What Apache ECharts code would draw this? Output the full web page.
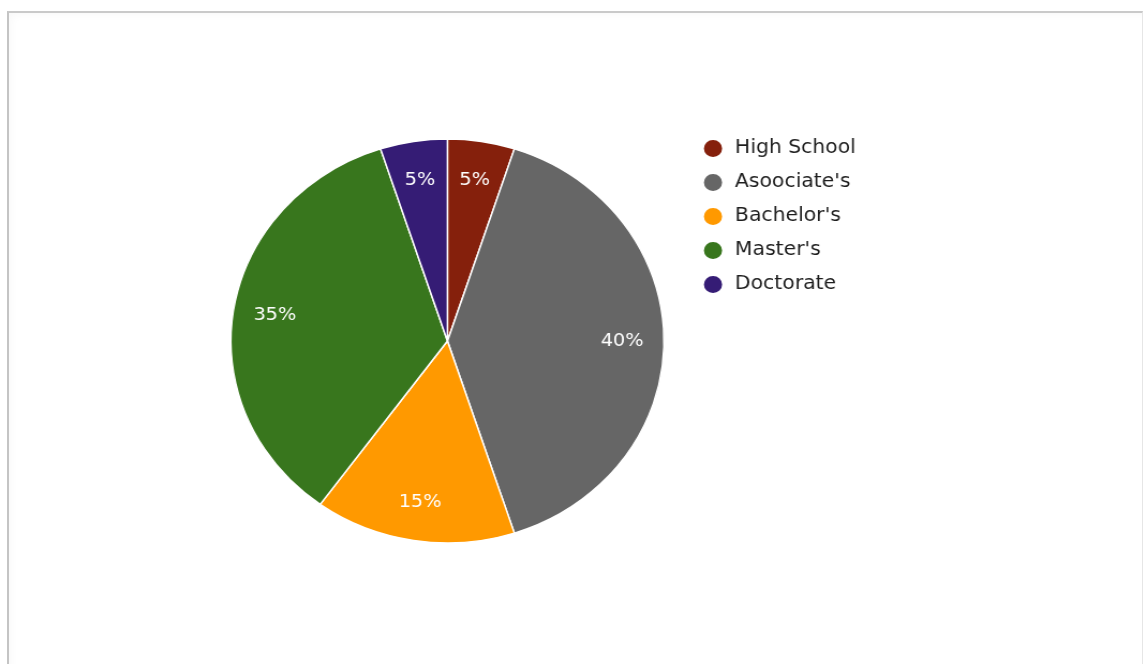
<!DOCTYPE html>
<html>
<head>
<meta charset="utf-8">
<script src="https://cdn.jsdelivr.net/npm/echarts@6/dist/echarts.min.js"></script>
<style>
  html, body { margin: 0; padding: 0; background: #ffffff; width: 1148px; height: 664px; overflow: hidden; }
  #frame {
    position: absolute; left: 7px; top: 11px; width: 1133px; height: 700px;
    border-top: 2px solid #c9c9c9; border-left: 2px solid #c4c4c4; border-right: 1px solid #e6e6e6;
    box-shadow: inset 10px 10px 8px -8px rgba(0,0,0,0.03);
  }
  #chart {
    position: absolute; left: 0; top: 0; width: 1071px; height: 664px;
    transform: scaleX(1.072); transform-origin: 0 0;
  }
</style>
</head>
<body>
<div id="frame"></div>
<div id="chart"></div>
<script>
const categories = ["High School", "Asoociate's", "Bachelor's", "Master's", "Doctorate"];
const values = [5, 40, 15, 35, 5];
const colors = ["#85200c", "#666666", "#ff9900", "#38761d", "#351c75"];

const data = categories.map((name, i) => ({ name: name, value: values[i] }));

const chart = echarts.init(document.getElementById('chart'), null, { renderer: 'canvas' });
chart.setOption({
  animation: false,
  color: colors,
  legend: {
    orient: 'vertical',
    left: 649.6,
    top: 133,
    data: categories,
    icon: 'circle',
    itemWidth: 31,
    itemHeight: 19,
    itemGap: 13,
    textStyle: { fontFamily: 'DejaVu Sans', fontSize: 19, color: '#1e1e1e', lineHeight: 20 },
    selectedMode: false
  },
  series: [
    {
      name: 'Education',
      type: 'pie',
      center: [417.4, 341],
      radius: [0, 202],
      startAngle: 90,
      clockwise: true,
      data: data,
      itemStyle: { borderColor: '#ffffff', borderWidth: 1.5 },
      label: { show: false },
      labelLine: { show: false },
      emphasis: { disabled: true }
    },
    {
      name: 'Labels',
      type: 'pie',
      center: [417.4, 341],
      radius: [118, 202],
      startAngle: 90,
      clockwise: true,
      silent: true,
      data: data,
      itemStyle: { color: 'rgba(0,0,0,0)', borderWidth: 0 },
      label: {
        show: true,
        position: 'inside',
        formatter: '{d}%',
        color: '#ffffff',
        fontFamily: 'DejaVu Sans',
        fontSize: 18
      },
      labelLine: { show: false },
      emphasis: { disabled: true }
    }
  ]
});
</script>
</body>
</html>
